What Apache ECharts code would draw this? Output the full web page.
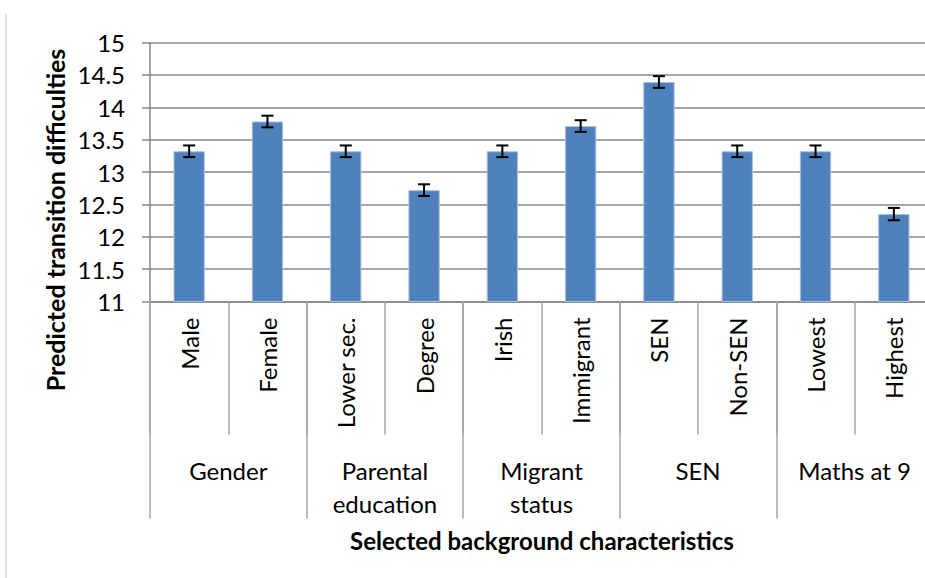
<!DOCTYPE html>
<html>
<head>
<meta charset="utf-8">
<script src="https://cdn.jsdelivr.net/npm/echarts@6/dist/echarts.min.js"></script>
<style>
html,body{margin:0;padding:0;background:#fff;overflow:hidden;width:925px;height:578px;}
#chart{width:933px;height:578px;}
</style>
</head>
<body>
<div id="chart"></div>
<script>
var categories = ['Male', 'Female', 'Lower sec.', 'Degree', 'Irish', 'Immigrant', 'SEN', 'Non-SEN', 'Lowest', 'Highest'];
var groups = ['Gender', 'Parental\neducation', 'Migrant\nstatus', 'SEN', 'Maths at 9'];
var values = [13.32, 13.78, 13.32, 12.72, 13.32, 13.71, 14.39, 13.32, 13.32, 12.35];
var errors = [0.09, 0.09, 0.09, 0.09, 0.09, 0.09, 0.09, 0.09, 0.09, 0.095];
var yTitle = 'Predicted transition difficulties';
var xTitle = 'Selected background characteristics';

var FONT = 'Lato';
var errData = values.map(function (v, i) { return [i, v - errors[i], v + errors[i]]; });

var chart = echarts.init(document.getElementById('chart'), null, { renderer: 'svg' });
chart.setOption({
  animation: false,
  backgroundColor: '#ffffff',
  textStyle: { fontFamily: FONT },
  grid: { left: 150, top: 42.5, right: 0, bottom: 276.5, containLabel: false },
  xAxis: [
    {
      type: 'category',
      data: categories,
      position: 'bottom',
      axisLine: { show: true, lineStyle: { color: '#878787', width: 1.5 } },
      axisTick: { show: true, interval: 0, length: 133, lineStyle: { color: '#a6a6a6', width: 1.5 } },
      axisLabel: { interval: 0, rotate: 90, margin: 16, fontSize: 24, color: '#000', fontFamily: FONT }
    },
    {
      type: 'category',
      data: groups,
      position: 'bottom',
      axisLine: { show: false },
      axisTick: { show: true, interval: 0, length: 217, lineStyle: { color: '#a6a6a6', width: 1.5 } },
      axisLabel: { interval: 0, margin: 152, fontSize: 24, lineHeight: 33, color: '#000', fontFamily: FONT }
    }
  ],
  yAxis: {
    type: 'value',
    min: 11,
    max: 15,
    interval: 0.5,
    axisLine: { show: true, lineStyle: { color: '#878787', width: 1.5 } },
    axisTick: { show: true, length: 8, lineStyle: { color: '#878787', width: 1.5 } },
    axisLabel: { margin: 25, fontSize: 24, color: '#000', fontFamily: FONT },
    splitLine: { show: true, lineStyle: { color: '#878787', width: 1.5 } }
  },
  series: [
    {
      type: 'bar',
      data: values,
      barWidth: '40%',
      itemStyle: { color: '#4f81bd', borderColor: '#a7bfe0', borderWidth: 1 }
    },
    {
      type: 'custom',
      data: errData,
      z: 10,
      renderItem: function (params, api) {
        var x = api.value(0);
        var lo = api.coord([x, api.value(1)]);
        var hi = api.coord([x, api.value(2)]);
        var cap = 6;
        var style = { stroke: '#000', lineWidth: 2 };
        return {
          type: 'group',
          children: [
            { type: 'line', shape: { x1: lo[0], y1: lo[1], x2: hi[0], y2: hi[1] }, style: style },
            { type: 'line', shape: { x1: lo[0] - cap, y1: lo[1], x2: lo[0] + cap, y2: lo[1] }, style: style },
            { type: 'line', shape: { x1: hi[0] - cap, y1: hi[1], x2: hi[0] + cap, y2: hi[1] }, style: style }
          ]
        };
      }
    }
  ],
  graphic: [
    { type: 'line', shape: { x1: 6, y1: 14, x2: 6, y2: 578 }, style: { stroke: '#d9d9d9', lineWidth: 1.5 } },
    {
      type: 'text', x: 55, y: 220, rotation: Math.PI / 2,
      style: { text: yTitle, font: 'bold 25px ' + FONT, fill: '#000', textAlign: 'center', textVerticalAlign: 'middle' }
    },
    {
      type: 'text', x: 542, y: 540,
      style: { text: xTitle, font: 'bold 24px ' + FONT, fill: '#000', textAlign: 'center', textVerticalAlign: 'middle' }
    }
  ]
});
</script>
</body>
</html>
